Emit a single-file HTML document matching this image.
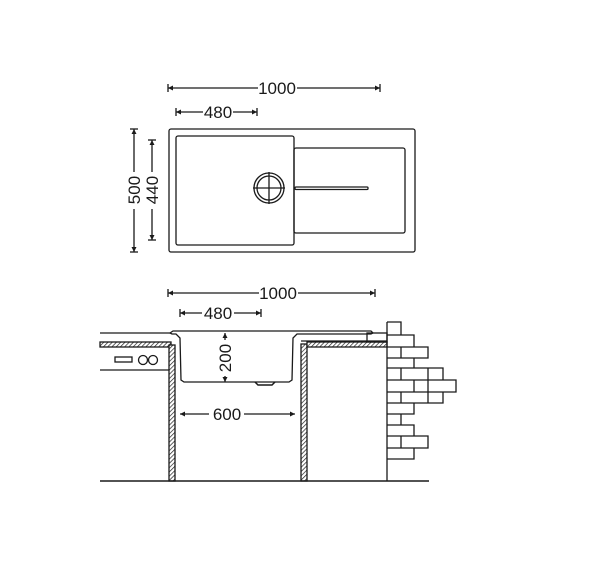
<!DOCTYPE html>
<html><head><meta charset="utf-8"><style>html,body{margin:0;padding:0;background:#fff}svg{display:block}</style></head>
<body>
<svg width="600" height="571" viewBox="0 0 600 571" xmlns="http://www.w3.org/2000/svg" font-family="Liberation Sans, sans-serif">
<defs>
<pattern id="h" width="3" height="3" patternUnits="userSpaceOnUse" patternTransform="rotate(45)"><rect width="3" height="3" fill="#fff"/><line x1="0" y1="0" x2="0" y2="3" stroke="#222" stroke-width="1.4"/></pattern>
</defs>
<g stroke="#1a1a1a" fill="none" stroke-width="1.3">
<line x1="168" y1="88" x2="258" y2="88"/><line x1="297" y1="88" x2="380" y2="88"/>
<line x1="168" y1="84" x2="168" y2="92"/><line x1="380" y1="84" x2="380" y2="92"/>
<line x1="176" y1="112" x2="203" y2="112"/><line x1="233" y1="112" x2="257" y2="112"/>
<line x1="176" y1="108" x2="176" y2="116"/><line x1="257" y1="108" x2="257" y2="116"/>
<line x1="134" y1="129" x2="134" y2="172"/><line x1="134" y1="209" x2="134" y2="252"/>
<line x1="130" y1="129" x2="138" y2="129"/><line x1="130" y1="252" x2="138" y2="252"/>
<line x1="152" y1="140" x2="152" y2="172"/><line x1="152" y1="209" x2="152" y2="240"/>
<line x1="148" y1="140" x2="156" y2="140"/><line x1="148" y1="240" x2="156" y2="240"/>
<rect x="169" y="129" width="246" height="123" rx="2"/>
<rect x="176" y="136" width="118" height="109" rx="2"/>
<rect x="294" y="148" width="111" height="85" rx="2"/>
<circle cx="269" cy="188" r="15"/><circle cx="269" cy="188" r="12"/>
<line x1="253" y1="188" x2="285" y2="188"/><line x1="269" y1="172" x2="269" y2="204"/>
<rect x="295" y="187" width="73" height="2.5" rx="1"/>
<line x1="168" y1="293" x2="259" y2="293"/><line x1="298" y1="293" x2="375" y2="293"/>
<line x1="168" y1="289" x2="168" y2="297"/><line x1="375" y1="289" x2="375" y2="297"/>
<line x1="180" y1="313" x2="202" y2="313"/><line x1="234" y1="313" x2="261" y2="313"/>
<line x1="180" y1="309" x2="180" y2="317"/><line x1="261" y1="309" x2="261" y2="317"/>
<line x1="225" y1="333" x2="225" y2="340"/><line x1="225" y1="376" x2="225" y2="382"/>
<line x1="180" y1="414" x2="209" y2="414"/><line x1="244" y1="414" x2="295" y2="414"/>
<line x1="100" y1="333" x2="170" y2="333"/>
<rect x="100" y="342" width="71" height="5" fill="url(#h)"/>
<line x1="100" y1="370" x2="169" y2="370"/>
<rect x="115" y="357" width="17" height="5"/>
<circle cx="143" cy="360" r="4.5"/><circle cx="153" cy="360" r="4.5"/>
<rect x="169" y="345" width="6" height="136" fill="url(#h)"/>
<rect x="301" y="344" width="6" height="137" fill="url(#h)"/>
<rect x="307" y="342" width="80" height="5" fill="url(#h)"/>
<line x1="301" y1="341" x2="387" y2="341"/>
<rect x="367" y="333" width="20" height="9"/>
<path d="M170 333 L173 331 L371 331 L373 333 L371 334 L297 334 L293 338 L292 380 L289 382 L184 382 L181 380 L180 338 L176 334 L172 334 Z"/>
<path d="M255 382 L258 385 L272 385 L275 382" stroke-width="1.5"/>
<line x1="387" y1="322" x2="387" y2="481"/>
<line x1="100" y1="481" x2="429" y2="481" stroke-width="1.5"/>
<path d="M387 322H401V335H387 M387 335H414V347H387 M387 347H428V358H387 M401 347V358 M387 358H414V368H387 M387 368H443V380H387 M401 368V380 M428 368V380 M387 380H456V392H387 M414 380V392 M428 380V392 M387 392H443V403H387 M401 392V403 M428 392V403 M387 403H414V414H387 M387 414H401V425H387 M387 425H414V436H387 M387 436H428V448H387 M401 436V448 M387 448H414V459H387"/>
</g>
<g fill="#1a1a1a" stroke="none">
<path d="M168 88l5-2.5v5z M380 88l-5-2.5v5z M176 112l5-2.5v5z M257 112l-5-2.5v5z"/>
<path d="M134 129l-2.5 5h5z M134 252l-2.5-5h5z M152 140l-2.5 5h5z M152 240l-2.5-5h5z"/>
<path d="M168 293l5-2.5v5z M375 293l-5-2.5v5z M180 313l5-2.5v5z M261 313l-5-2.5v5z"/>
<path d="M225 333l-2.5 5h5z M225 382l-2.5-5h5z M180 414l5-2.5v5z M295 414l-5-2.5v5z"/>
</g>
<g font-size="17" fill="#1a1a1a" text-anchor="middle">
<text x="277" y="94">1000</text>
<text x="218" y="118">480</text>
<text x="278" y="299">1000</text>
<text x="218" y="319">480</text>
<text x="227" y="420">600</text>
<text transform="translate(140,190) rotate(-90)">500</text>
<text transform="translate(158,190) rotate(-90)">440</text>
<text transform="translate(231,358) rotate(-90)">200</text>
</g>
</svg>
</body></html>
